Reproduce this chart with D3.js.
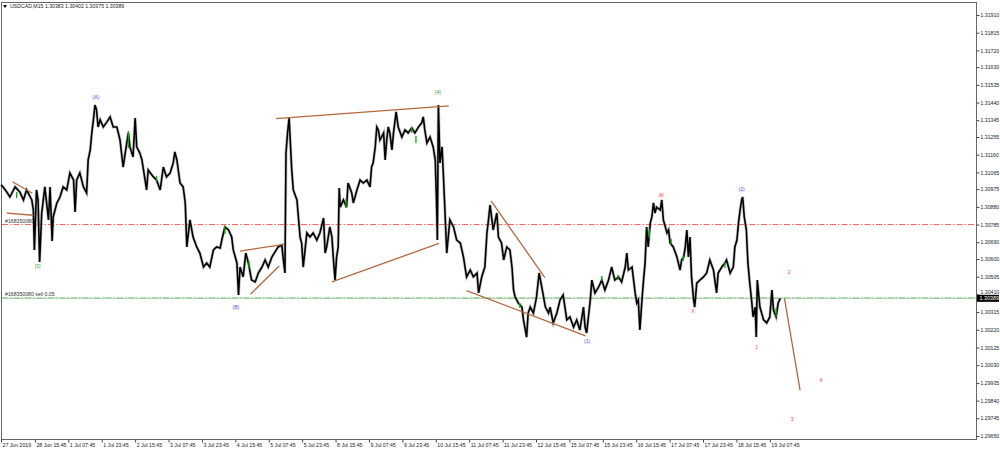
<!DOCTYPE html>
<html><head><meta charset="utf-8">
<script src="https://cdn.jsdelivr.net/npm/d3@7"></script>
<style>body{margin:0;background:#fff;}svg{display:block;}text{font-family:"Liberation Sans",Arial,sans-serif;}</style>
</head><body><svg id="c" width="1000" height="450"></svg>
<script>
// [bar index (M15 bars from first visible bar), price]
const pricePath = [
[0,1.30998],[4,1.30987],[11,1.30960],[17,1.30933],[27,1.30987],[36,1.30960],[43,1.30917],[49,1.30971],[59,1.30917],[62,1.30863],
[64,1.30649],[68,1.30971],[71,1.30917],[74,1.30584],[78,1.30847],[84,1.30987],[91,1.30810],[94,1.30987],[98,1.30697],[100,1.30826],
[107,1.30901],[113,1.30933],[119,1.30987],[126,1.30971],[132,1.31062],[139,1.31024],[142,1.30853],[145,1.31024],[151,1.31062],[158,1.30987],
[164,1.30955],[167,1.31132],[171,1.31186],[174,1.31277],[177,1.31347],[180,1.31427],[183,1.31400],[186,1.31309],[190,1.31347],[196,1.31309],
[203,1.31336],[209,1.31363],[215,1.31309],[222,1.31309],[228,1.31239],[234,1.31094],[238,1.31169],[244,1.31277],[247,1.31202],[253,1.31148],
[257,1.31357],[260,1.31202],[266,1.31169],[270,1.31132],[273,1.31078],[279,1.30971],[282,1.31078],[292,1.31041],[298,1.31024],[305,1.30971],
[311,1.31094],[317,1.31041],[324,1.31062],[330,1.31116],[333,1.31175],[337,1.31132],[343,1.31008],[349,1.30987],[353,1.30901],[356,1.30665],
[362,1.30810],[368,1.30718],[375,1.30665],[381,1.30632],[388,1.30557],[394,1.30579],[400,1.30557],[407,1.30649],[413,1.30665],[420,1.30659],
[423,1.30702],[429,1.30772],[436,1.30756],[442,1.30718],[445,1.30649],[452,1.30579],[455,1.30407],[458,1.30557],[464,1.30504],[469,1.30632],
[474,1.30579],[480,1.30487],[487,1.30477],[493,1.30525],[500,1.30557],[506,1.30595],[512,1.30557],[519,1.30611],[525,1.30638],[531,1.30665],
[538,1.30675],[541,1.30595],[544,1.30525],[546,1.31169],[549,1.31277],[552,1.31357],[557,1.31078],[560,1.30971],[567,1.30917],[573,1.30718],
[576,1.30686],[579,1.30557],[586,1.30740],[592,1.30718],[598,1.30740],[605,1.30702],[611,1.30740],[618,1.30820],[621,1.30632],[624,1.30665],
[630,1.30772],[634,1.30718],[637,1.30595],[640,1.30487],[643,1.30611],[646,1.30665],[648,1.30981],[650,1.30879],[656,1.30917],[662,1.30879],
[665,1.31008],[672,1.30955],[675,1.30901],[682,1.30971],[688,1.31024],[694,1.31008],[701,1.31024],[707,1.30987],[710,1.31094],[713,1.31116],
[717,1.31202],[720,1.31309],[723,1.31293],[726,1.31239],[733,1.31277],[736,1.31132],[739,1.31239],[742,1.31309],[745,1.31277],[749,1.31186],
[752,1.31277],[757,1.31390],[761,1.31309],[768,1.31255],[774,1.31293],[780,1.31277],[787,1.31304],[793,1.31277],[800,1.31309],[806,1.31331],
[809,1.31363],[812,1.31293],[816,1.31223],[822,1.31255],[828,1.31202],[832,1.31132],[835,1.30847],[836,1.30702],[838,1.31427],[841,1.31116],
[845,1.31202],[848,1.31024],[854,1.30632],[860,1.30810],[867,1.30772],[873,1.30702],[880,1.30686],[886,1.30611],[892,1.30504],[899,1.30541],
[905,1.30504],[912,1.30525],[915,1.30418],[921,1.30504],[927,1.30557],[931,1.30740],[934,1.30810],[937,1.30890],[943,1.30756],[950,1.30847],
[953,1.30718],[959,1.30686],[963,1.30595],[969,1.30665],[975,1.30649],[979,1.30557],[982,1.30434],[985,1.30396],[991,1.30364],[998,1.30342],
[1001,1.30273],[1007,1.30181],[1010,1.30310],[1014,1.30342],[1020,1.30310],[1026,1.30396],[1031,1.30525],[1036,1.30450],[1043,1.30342],[1049,1.30310],
[1052,1.30342],[1058,1.30257],[1065,1.30310],[1071,1.30380],[1077,1.30407],[1084,1.30273],[1090,1.30289],[1097,1.30235],[1103,1.30273],[1109,1.30219],
[1116,1.30342],[1119,1.30235],[1122,1.30203],[1129,1.30380],[1132,1.30487],[1138,1.30418],[1145,1.30450],[1151,1.30487],[1157,1.30434],[1164,1.30487],
[1170,1.30557],[1176,1.30487],[1183,1.30504],[1189,1.30477],[1196,1.30557],[1199,1.30632],[1202,1.30541],[1209,1.30557],[1212,1.30487],[1215,1.30418],
[1218,1.30364],[1221,1.30380],[1224,1.30219],[1228,1.30380],[1231,1.30487],[1234,1.30579],[1237,1.30772],[1240,1.30665],[1244,1.30794],[1247,1.30826],
[1250,1.30901],[1253,1.30847],[1256,1.30879],[1263,1.30863],[1266,1.30917],[1269,1.30810],[1276,1.30740],[1279,1.30756],[1282,1.30686],[1288,1.30665],
[1295,1.30611],[1301,1.30541],[1304,1.30595],[1308,1.30611],[1311,1.30665],[1314,1.30756],[1317,1.30611],[1320,1.30718],[1323,1.30504],[1327,1.30380],
[1329,1.30342],[1333,1.30471],[1339,1.30487],[1346,1.30504],[1352,1.30525],[1358,1.30595],[1365,1.30541],[1371,1.30418],[1374,1.30525],[1381,1.30557],
[1387,1.30579],[1390,1.30595],[1397,1.30525],[1403,1.30557],[1406,1.30665],[1410,1.30702],[1413,1.30794],[1416,1.30863],[1419,1.30917],[1421,1.30933],
[1424,1.30826],[1428,1.30756],[1431,1.30579],[1434,1.30487],[1438,1.30380],[1441,1.30289],[1445,1.30342],[1447,1.30181],[1449,1.30487],[1454,1.30342],
[1461,1.30273],[1467,1.30257],[1473,1.30289],[1477,1.30434],[1480,1.30326],[1485,1.30289],[1489,1.30364],[1493,1.30389]
];

// highlighted (green) bars: [bar, high, low]
const greenBars = [
[30,1.30955,1.30933],[244,1.31282,1.31202],[298,1.31041,1.31024],[429,1.30772,1.30740],[475,1.30584,1.30552],
[661,1.30917,1.30879],[787,1.31304,1.31282],[795,1.31255,1.31228],[994,1.30359,1.30342],[1151,1.30504,1.30487],
[1182,1.30509,1.30493],[1242,1.30756,1.30718],[1284,1.30702,1.30686],[1307,1.30611,1.30595],[1387,1.30579,1.30557],[1485,1.30332,1.30294]
];

// trend lines: [bar1, price1, bar2, price2]
const trendLines = [
[22,1.31015,60,1.30953],[11,1.30846,62,1.30835],
[458,1.30643,542,1.30679],[478,1.30411,533,1.30563],
[527,1.31354,858,1.31422],[634,1.30477,839,1.30684],
[939,1.30912,1042,1.30500],[892,1.30430,1120,1.30188],
[1501,1.30389,1531,1.29895]
];

// wave labels
const waveText  = ["(A)","(B)","[3]","[4]","(1)","(2)","W","X","1","2","3","4"];
const waveBar   = [182,450,70,837,1123,1419,1265,1326,1448,1510,1516,1571];
const wavePrice = [1.31470,1.30342,1.30563,1.31497,1.30160,1.30976,1.30944,1.30321,1.30128,1.30530,1.29741,1.29950];
const waveDegree= ["primary","primary","major","major","primary","primary","minor","minor","minor","minor","minor","minor"];

// horizontal levels
const orderPrice = 1.30391, stopPrice = 1.30785, bidPrice = 1.30389;
const orderLabel = "#168350080 sell 0.05", stopLabel = "#168350080";
const titleText = "USDCAD,M15  1.30383 1.30402 1.30375 1.30389";

const yTicks = [1.31910,1.31815,1.31720,1.31630,1.31535,1.31440,1.31345,1.31255,1.31160,1.31065,1.30975,1.30880,1.30785,1.30690,1.30600,1.30505,1.30410,1.30315,1.30220,1.30125,1.30030,1.29935,1.29840,1.29745,1.29650];
const xLabelText = ["27 Jun 2019","28 Jun 15:45","1 Jul 07:45","1 Jul 23:45","2 Jul 15:45","3 Jul 07:45","3 Jul 23:45","4 Jul 15:45","5 Jul 07:45","5 Jul 23:45","8 Jul 15:45","9 Jul 07:45","9 Jul 23:45","10 Jul 15:45","11 Jul 07:45","11 Jul 23:45","12 Jul 15:45","15 Jul 07:45","15 Jul 23:45","16 Jul 15:45","17 Jul 07:45","17 Jul 23:45","18 Jul 15:45","19 Jul 07:45"];
const xLabelBar  = [0,65,129,193,257,321,385,449,513,577,641,705,769,833,897,961,1025,1089,1153,1217,1281,1345,1409,1473];

const P = {l:1, t:2, r:976, b:439};
const svg = d3.select("#c");
const x = d3.scaleLinear().domain([0,1868]).range([P.l,P.r]);
const y = d3.scaleLinear().domain([1.31910,1.29650]).range([15,436]);
const degColor = {primary:"#4a4ae8", major:"#3aa83a", minor:"#ff4040"};

const g = svg.append("g");
// frame
g.append("rect").attr("x",P.l+0.5).attr("y",P.t+0.5).attr("width",P.r-P.l).attr("height",P.b-P.t)
 .attr("fill","none").attr("stroke","#666").attr("stroke-width",1);

// axes
const ya = d3.axisRight(y).tickValues(yTicks).tickSize(3).tickFormat(d3.format(".5f"));
const yg = svg.append("g").attr("transform",`translate(${P.r+0.5},0)`).call(ya);
yg.select(".domain").remove();
yg.selectAll("line").attr("stroke","#444");
yg.selectAll("text").attr("font-size",5.2).attr("fill","#222").attr("x",4)
  .attr("dy",d=>Math.abs(y(d)-y(bidPrice))<6 ? "-0.25em" : "0.32em");

const xa = d3.axisBottom(x).tickValues(xLabelBar).tickSize(3).tickFormat((d,i)=>xLabelText[i]);
const xg = svg.append("g").attr("transform",`translate(0,${P.b+0.5})`).call(xa);
xg.select(".domain").remove();
xg.selectAll("line").attr("stroke","#444");
xg.selectAll("text").attr("font-size",5.2).attr("fill","#222").attr("text-anchor","start").attr("dx",1).attr("dy","0.35em");

// levels
const hl = (p, col, dash, w) => g.append("line").attr("x1",P.l+1).attr("x2",P.r).attr("y1",y(p)).attr("y2",y(p))
  .attr("stroke",col).attr("stroke-width",w).attr("stroke-dasharray",dash);
hl(bidPrice,"#bdbdbd",null,1);
hl(stopPrice,"#ff5a5a","6,2,1.5,2",1);
hl(orderPrice,"#8fd68f","6,2,1.5,2",1.4);
g.append("text").attr("x",5).attr("y",y(stopPrice)-2).attr("font-size",5.2).attr("fill","#333").text(stopLabel);
g.append("text").attr("x",5).attr("y",y(orderPrice)-2).attr("font-size",5.2).attr("fill","#333").text(orderLabel);

// price path
const line = d3.line().x(d=>x(d[0])).y(d=>y(d[1]));
g.append("path").datum(pricePath).attr("d",line).attr("fill","none").attr("stroke","#888").attr("stroke-width",3).attr("stroke-opacity",0.5);
g.append("path").datum(pricePath).attr("d",line).attr("fill","none").attr("stroke","#000").attr("stroke-width",1.6);

// green bars
g.selectAll(".gb").data(greenBars).join("line").attr("x1",d=>x(d[0])).attr("x2",d=>x(d[0]))
 .attr("y1",d=>y(d[1])-1).attr("y2",d=>y(d[2])+1).attr("stroke","#00b400").attr("stroke-width",1.3);

// trend lines
g.selectAll(".tl").data(trendLines).join("line").attr("x1",d=>x(d[0])).attr("y1",d=>y(d[1]))
 .attr("x2",d=>x(d[2])).attr("y2",d=>y(d[3])).attr("stroke","#b5673c").attr("stroke-width",1.3);

// wave labels
g.selectAll(".wl").data(waveText).join("text").attr("x",(d,i)=>x(waveBar[i])).attr("y",(d,i)=>y(wavePrice[i]))
 .attr("text-anchor","middle").attr("dy","0.35em").attr("font-size",5.2).attr("fill",(d,i)=>degColor[waveDegree[i]]).text(d=>d);

// current price box
const bb = svg.append("g").attr("transform",`translate(${P.r+1},${y(bidPrice)})`);
bb.append("rect").attr("x",0).attr("y",-3.5).attr("width",22).attr("height",7).attr("fill","#000");
bb.append("text").attr("x",2.5).attr("y",0).attr("dy","0.35em").attr("font-size",5.4).attr("fill","#fff").text(d3.format(".5f")(bidPrice));

// title
svg.append("path").attr("d",d3.symbol().type(d3.symbolTriangle).size(6)()).attr("transform","translate(5,6) rotate(180)").attr("fill","#000");
svg.append("text").attr("x",10).attr("y",7.8).attr("font-size",5.2).attr("fill","#222").text(titleText);
</script></body></html>
